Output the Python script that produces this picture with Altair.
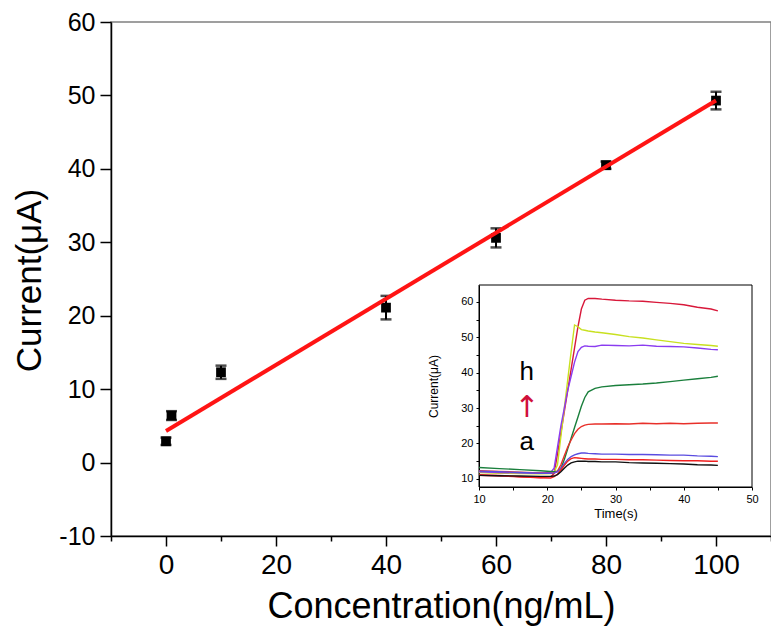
import altair as alt
import pandas as pd

# ---------------- main calibration data ----------------
conc = [0, 1, 10, 40, 60, 80, 100]
current = [2.9, 6.4, 12.3, 21.1, 30.6, 40.5, 49.3]
err = [0.5, 0.6, 0.9, 1.6, 1.3, 0.5, 1.2]
fit_conc = [0, 100]
fit_current = [4.3, 49.3]

x_domain = [-10, 110]
y_domain = [-10, 60]
x_ticks = list(range(-10, 111, 10))
y_ticks = list(range(-10, 61, 5))

# ---------------- inset (current vs time) ----------------
time_s = [10, 13, 16, 19, 20.5, 21, 21.5, 22, 22.5, 23, 23.5, 24, 24.5, 25, 25.5,
          26, 27, 28, 30, 32, 34, 36, 38, 40, 42, 44, 45]
curve_a = [11.0, 10.9, 10.8, 10.7, 10.7, 10.8, 11.2, 12.0, 13.0, 13.9, 14.5, 14.8, 15.0, 15.0, 15.0,
           14.9, 14.9, 14.8, 14.8, 14.6, 14.5, 14.4, 14.3, 14.2, 14.0, 13.9, 13.8]
curve_b = [11.2, 11.0, 10.6, 10.3, 10.2, 10.6, 11.3, 12.5, 13.8, 15.0, 15.7, 16.0, 15.9, 15.8, 15.7,
           15.6, 15.6, 15.5, 15.5, 15.4, 15.4, 15.3, 15.2, 15.1, 15.1, 15.0, 15.0]
curve_c = [12.2, 12.0, 11.8, 11.6, 11.6, 11.7, 12.0, 13.0, 14.3, 15.5, 16.3, 16.8, 17.1, 17.3, 17.3,
           17.2, 17.1, 17.0, 17.0, 16.9, 16.9, 16.8, 16.7, 16.7, 16.5, 16.4, 16.3]
curve_d = [12.3, 12.1, 11.9, 11.7, 11.6, 11.6, 12.2, 14.0, 16.5, 19.0, 21.0, 22.8, 24.0, 24.8, 25.2,
           25.4, 25.5, 25.5, 25.6, 25.5, 25.7, 25.6, 25.7, 25.6, 25.7, 25.8, 25.8]
curve_e = [13.2, 12.9, 12.6, 12.3, 12.1, 12.0, 12.2, 13.0, 15.5, 18.5, 21.5, 24.5, 27.5, 30.5, 33.0,
           34.6, 35.6, 36.0, 36.4, 36.6, 36.8, 37.1, 37.5, 37.9, 38.3, 38.7, 39.0]
curve_f = [12.0, 11.8, 11.7, 11.6, 11.8, 13.0, 19.0, 25.0, 30.0, 35.0, 39.0, 43.0, 46.0, 47.2, 47.6,
           47.5, 47.4, 47.8, 47.7, 47.6, 47.8, 47.5, 47.4, 47.3, 47.0, 46.6, 46.5]
curve_g = [11.8, 11.6, 11.5, 11.4, 11.5, 11.8, 14.0, 22.0, 30.0, 38.0, 46.0, 53.5, 53.0, 52.2, 52.0,
           51.8, 51.5, 51.3, 50.8, 50.2, 49.8, 49.3, 48.8, 48.3, 48.0, 47.7, 47.5]
curve_h = [11.0, 10.8, 10.6, 10.4, 10.6, 11.5, 17.0, 23.0, 29.0, 35.0, 41.0, 47.0, 53.0, 58.0, 60.5,
           61.0, 61.0, 60.8, 60.5, 60.3, 60.2, 59.9, 59.6, 59.2, 58.5, 58.0, 57.5]
curve_names = ["h", "g", "f", "e", "d", "c", "b", "a"]
curve_values = [curve_h, curve_g, curve_f, curve_e, curve_d, curve_c, curve_b, curve_a]
curve_colors = ["#d8183a", "#c8e020", "#8a3cf0", "#1a7f3c", "#e8302a", "#5a4ce0", "#f02020", "#111111"]

inset_t_domain = [10, 50]
inset_i_domain = [7.7, 64.8]
inset_t_ticks = list(range(10, 51, 5))
inset_i_ticks = list(range(10, 61, 5))

letters = ["h", "a"]
letters_t = [17, 17]
letters_i = [40.2, 20.5]
arrow_text = ["\u2191"]
arrow_t = [17]
arrow_i = [30.0]

# ---------------- build frames ----------------
main_df = pd.DataFrame({
    "conc": conc,
    "cur": current,
    "lo": [c - e for c, e in zip(current, err)],
    "hi": [c + e for c, e in zip(current, err)],
})
fit_df = pd.DataFrame({"conc": fit_conc, "cur": fit_current})

rows = []
for name, vals in zip(curve_names, curve_values):
    for t, v in zip(time_s, vals):
        rows.append({"t": t, "I": v, "curve": name})
inset_df = pd.DataFrame(rows)

FONT = "Liberation Sans, Arial, sans-serif"

x_scale = alt.Scale(domain=x_domain, nice=False, zero=False)
y_scale = alt.Scale(domain=y_domain, nice=False, zero=False)

x_axis = alt.Axis(
    values=x_ticks,
    labelExpr="datum.value % 20 === 0 ? '' + datum.value : ''",
    tickSize={"condition": {"test": "datum.value % 20 === 0", "value": 10}, "value": 5},
    labelFont=FONT, labelFontSize=28, labelPadding=5,
    titleFont=FONT, titleFontSize=36, titleBaseline="alphabetic", titleY=81,
    labelOverlap=False, labelFlush=False,
)
y_axis = alt.Axis(
    values=y_ticks,
    labelExpr="datum.value % 10 === 0 ? '' + datum.value : ''",
    tickSize={"condition": {"test": "datum.value % 10 === 0", "value": 11}, "value": 5},
    labelFont=FONT, labelFontSize=25, labelPadding=5,
    titleFont=FONT, titleFontSize=35, titleBaseline="alphabetic", titleX=-71, titleY=258,
    labelOverlap=False, labelFlush=False,
)

base = alt.Chart(main_df)
err_rule = base.mark_rule(color="black", strokeWidth=2).encode(
    x=alt.X("conc:Q", scale=x_scale, axis=x_axis, title="Concentration(ng/mL)"),
    y=alt.Y("lo:Q", scale=y_scale, axis=y_axis, title="Current(\u03bcA)"),
    y2="hi:Q",
)
cap_lo = base.mark_tick(color="black", orient="horizontal", size=11, thickness=2.5).encode(
    x="conc:Q", y="lo:Q")
cap_hi = base.mark_tick(color="black", orient="horizontal", size=11, thickness=2.5).encode(
    x="conc:Q", y="hi:Q")
pts = base.mark_square(size=95, color="black", opacity=1).encode(x="conc:Q", y="cur:Q")
fit = alt.Chart(fit_df).mark_line(color="#ff1414", strokeWidth=4).encode(
    x="conc:Q", y="cur:Q")

main = alt.layer(err_rule, cap_lo, cap_hi, pts, fit)

# inset (scales mapped into a sub-rectangle of the plot area)
ix_scale = alt.Scale(domain=inset_t_domain, range=[368, 641], nice=False, zero=False)
iy_scale = alt.Scale(domain=inset_i_domain, range=[465, 263], nice=False, zero=False)
ix_axis = alt.Axis(
    orient="bottom", offset=-49, values=inset_t_ticks,
    labelExpr="datum.value % 10 === 0 ? '' + datum.value : ''",
    tickSize=3, tickWidth=1, domainWidth=1,
    labelFont=FONT, labelFontSize=11, labelPadding=3,
    titleFont=FONT, titleFontSize=13, titlePadding=3,
    labelOverlap=False, labelFlush=False,
)
iy_axis = alt.Axis(
    orient="left", offset=-368, values=inset_i_ticks,
    labelExpr="datum.value % 10 === 0 ? '' + datum.value : ''",
    tickSize=3, tickWidth=1, domainWidth=1,
    labelFont=FONT, labelFontSize=11, labelPadding=3,
    titleFont=FONT, titleFontSize=12, titleBaseline="alphabetic", titleX=-42,
    labelOverlap=False, labelFlush=False,
)
IX_T = "Time(s)"
IY_T = "Current(\u03bcA)"

frame_df = pd.DataFrame({"t": [inset_t_domain[0]], "t1": [inset_t_domain[1]],
                         "I": [inset_i_domain[0]], "I1": [inset_i_domain[1]]})
frame = alt.Chart(frame_df).mark_rect(fillOpacity=0, stroke="black", strokeWidth=1).encode(
    x=alt.X("t:Q", scale=ix_scale, axis=ix_axis, title=IX_T), x2="t1:Q",
    y=alt.Y("I:Q", scale=iy_scale, axis=iy_axis, title=IY_T), y2="I1:Q")

lines = alt.Chart(inset_df).mark_line(strokeWidth=1.4).encode(
    x=alt.X("t:Q", title=IX_T),
    y=alt.Y("I:Q", title=IY_T),
    color=alt.Color("curve:N", scale=alt.Scale(domain=curve_names, range=curve_colors), legend=None),
    detail="curve:N",
)
let_df = pd.DataFrame({"t": letters_t, "I": letters_i, "txt": letters})
let_mark = alt.Chart(let_df).mark_text(font=FONT, fontSize=26, color="black").encode(
    x=alt.X("t:Q", title=IX_T), y=alt.Y("I:Q", title=IY_T), text="txt:N")
arr_df = pd.DataFrame({"t": arrow_t, "I": arrow_i, "txt": arrow_text})
arr_mark = alt.Chart(arr_df).mark_text(font="DejaVu Sans", fontSize=30, color="#d0103a").encode(
    x=alt.X("t:Q", title=IX_T), y=alt.Y("I:Q", title=IY_T), text="txt:N")

inset = alt.layer(frame, lines, let_mark, arr_mark)

chart = alt.layer(main, inset).resolve_scale(
    x="independent", y="independent"
).properties(
    width=660, height=514,
    autosize=alt.AutoSizeParams(type="none"),
    padding={"left": 103, "top": 14, "right": 0, "bottom": 97},
).configure_view(
    stroke="#808080", strokeWidth=1.5
).configure_axis(
    grid=False, domainColor="black", domainWidth=1.5, tickColor="black", tickWidth=1.5,
    labelColor="black", titleColor="black", titleFontWeight="normal",
)

chart.save("out.html", embed_options={"renderer": "svg", "actions": False})
